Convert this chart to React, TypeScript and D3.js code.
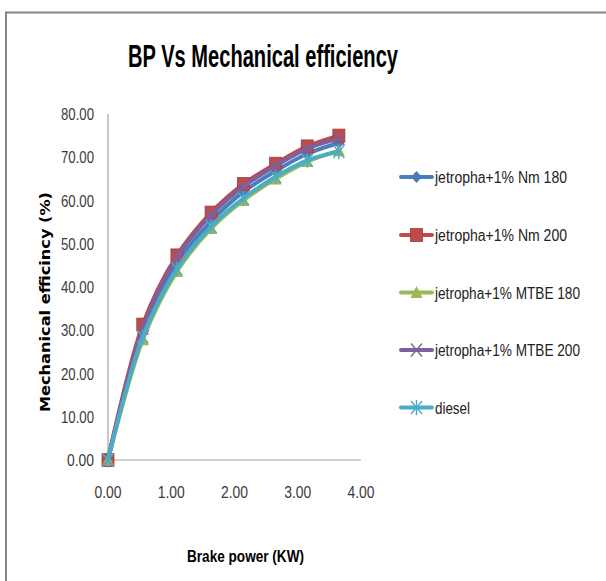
import * as d3 from 'd3';

const bp = [0, 0.55, 1.09, 1.63, 2.14, 2.65, 3.15, 3.65];
const nm180 = [0, 29.5, 45.5, 55.2, 62.0, 66.8, 70.8, 73.3];
const nm200 = [0, 31.3, 47.3, 57.2, 63.8, 68.5, 72.5, 75.0];
const mtbe180 = [0, 27.8, 43.6, 53.5, 60.0, 65.0, 69.0, 71.5];
const mtbe200 = [0, 30.5, 46.8, 56.6, 63.2, 68.0, 72.0, 74.3];
const diesel = [0, 28.5, 44.2, 54.0, 60.5, 65.5, 69.3, 71.3];

const seriesNames = [
  'jetropha+1% Nm 180',
  'jetropha+1% Nm 200',
  'jetropha+1% MTBE 180',
  'jetropha+1% MTBE 200',
  'diesel',
];
const xTicks = [0, 1, 2, 3, 4];
const yTicks = [0, 10, 20, 30, 40, 50, 60, 70, 80];

const series = [
  { name: seriesNames[0], values: nm180, color: '#4A7EBB', marker: 'diamond' },
  { name: seriesNames[1], values: nm200, color: '#BE4B48', marker: 'square' },
  { name: seriesNames[2], values: mtbe180, color: '#98B954', marker: 'triangle' },
  { name: seriesNames[3], values: mtbe200, color: '#7D60A0', marker: 'x' },
  { name: seriesNames[4], values: diesel, color: '#4BACC6', marker: 'star' },
];

const narrow = '"Liberation Sans Narrow", "Arial Narrow", "Liberation Sans", sans-serif';

function Marker({ type, color, x, y }: { type: string; color: string; x: number; y: number }) {
  if (type === 'diamond') {
    return <path d={`M${x},${y - 6}L${x + 5.5},${y}L${x},${y + 6}L${x - 5.5},${y}Z`} fill={color} />;
  }
  if (type === 'square') {
    return <rect x={x - 6} y={y - 6.5} width={12} height={13} fill={color} stroke="#A03C3A" strokeWidth={0.8} />;
  }
  if (type === 'triangle') {
    return <path d={`M${x},${y - 6.5}L${x + 6},${y + 5.5}L${x - 6},${y + 5.5}Z`} fill={color} />;
  }
  if (type === 'x') {
    return (
      <path
        d={`M${x - 5.5},${y - 6.5}L${x + 5.5},${y + 6.5}M${x - 5.5},${y + 6.5}L${x + 5.5},${y - 6.5}`}
        stroke={color}
        strokeWidth={1.4}
        fill="none"
      />
    );
  }
  return (
    <path
      d={`M${x - 5.5},${y - 6.5}L${x + 5.5},${y + 6.5}M${x - 5.5},${y + 6.5}L${x + 5.5},${y - 6.5}M${x},${y - 7.5}L${x},${y + 7.5}`}
      stroke={color}
      strokeWidth={1.4}
      fill="none"
    />
  );
}

// width per tick label, by number of characters (condensed like the original)
const tickWidth = (s: string) => (s.length > 4 ? 33 : 27);

export default function App() {
  const x = d3.scaleLinear().domain([0, 4]).range([108, 361]);
  const y = d3.scaleLinear().domain([0, 80]).range([460, 114]);

  const line = d3
    .line<number>()
    .x((_, i) => x(bp[i]))
    .y(d => y(d))
    .curve(d3.curveCatmullRom.alpha(0.5));

  const legendY = [177, 235, 292.5, 350, 407.5];
  const legendLen = [132, 132, 145, 145, 35];

  return (
    <svg
      width={606}
      height={581}
      style={{ position: 'absolute', left: 0, top: 0, background: '#fff' }}
    >
      <rect x={0} y={0} width={606} height={581} fill="#fff" />
      <path d="M6,590V12.5H620" fill="none" stroke="#868686" strokeWidth={2} />

      <text
        x={263}
        y={67}
        textAnchor="middle"
        fontFamily={narrow}
        fontWeight="bold"
        fontSize={31}
        textLength={270}
        lengthAdjust="spacingAndGlyphs"
        fill="#000"
      >
        BP Vs Mechanical efficiency
      </text>

      {/* axes */}
      <line x1={x(0)} x2={x(0)} y1={y(80)} y2={y(0)} stroke="#A6A6A6" strokeWidth={1.2} />
      <line x1={x(0)} x2={x(4)} y1={y(0)} y2={y(0)} stroke="#A6A6A6" strokeWidth={1.2} />

      {yTicks.map(t => {
        const s = t.toFixed(2);
        return (
          <text
            key={`y${t}`}
            x={94}
            y={y(t) + 6}
            textAnchor="end"
            fontFamily={narrow}
            fontSize={16.5}
            textLength={tickWidth(s)}
            lengthAdjust="spacingAndGlyphs"
            fill="#3a3a3a"
          >
            {s}
          </text>
        );
      })}
      {xTicks.map(t => {
        const s = t.toFixed(2);
        return (
          <text
            key={`x${t}`}
            x={x(t) - tickWidth(s) / 2}
            y={498}
            fontFamily={narrow}
            fontSize={16.5}
            textLength={tickWidth(s)}
            lengthAdjust="spacingAndGlyphs"
            fill="#3a3a3a"
          >
            {s}
          </text>
        );
      })}

      <text
        x={245.5}
        y={562}
        textAnchor="middle"
        fontFamily={narrow}
        fontWeight="bold"
        fontSize={17}
        textLength={117}
        lengthAdjust="spacingAndGlyphs"
        fill="#000"
      >
        Brake power (KW)
      </text>
      <text
        transform="translate(50,302) rotate(-90)"
        textAnchor="middle"
        fontFamily='"DejaVu Sans", sans-serif'
        fontWeight="bold"
        fontSize={14}
        textLength={220}
        lengthAdjust="spacingAndGlyphs"
        fill="#000"
      >
        Mechanical efficincy (%)
      </text>

      {series.map(s => (
        <g key={s.name}>
          <path d={line(s.values) || ''} fill="none" stroke={s.color} strokeWidth={4} strokeLinecap="round" />
          {s.values.map((v, i) => (
            <Marker key={i} type={s.marker} color={s.color} x={x(bp[i])} y={y(v)} />
          ))}
        </g>
      ))}

      {series.map((s, i) => (
        <g key={`lg${i}`}>
          <line x1={401} x2={432} y1={legendY[i]} y2={legendY[i]} stroke={s.color} strokeWidth={4} strokeLinecap="round" />
          <Marker type={s.marker} color={s.color} x={416.5} y={legendY[i]} />
          <text
            x={435}
            y={legendY[i] + 6}
            fontFamily={narrow}
            fontSize={16}
            textLength={legendLen[i]}
            lengthAdjust="spacingAndGlyphs"
            fill="#222"
          >
            {s.name}
          </text>
        </g>
      ))}
    </svg>
  );
}
